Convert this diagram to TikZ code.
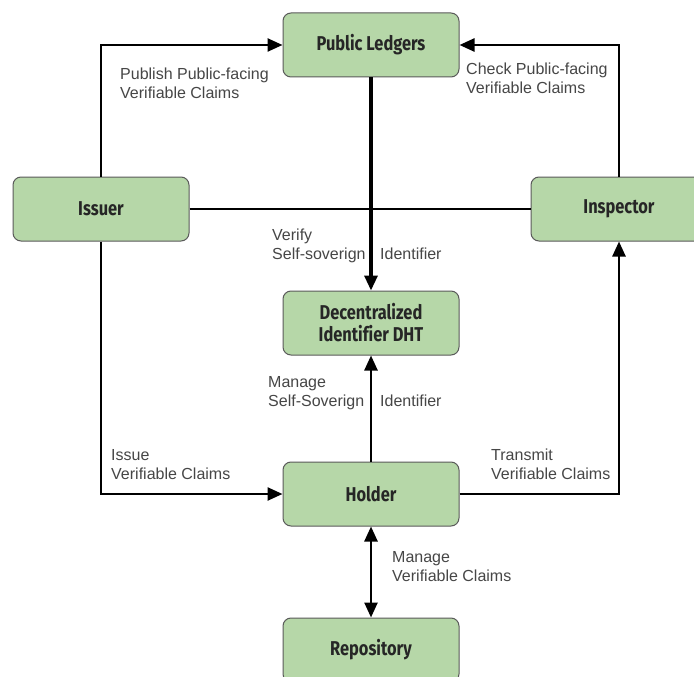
\documentclass[tikz,border=0pt]{standalone}
\usepackage{fontspec}
\setmainfont{Liberation Sans}
\newfontfamily\boxfont{Fira Sans}[FakeStretch=0.82, Ligatures=NoCommon]
\usetikzlibrary{arrows.meta}
\definecolor{boxgreen}{RGB}{182,215,168}
\definecolor{boxedge}{RGB}{90,90,90}
\definecolor{lbl}{RGB}{70,70,70}
\tikzset{
  entity/.style={draw=boxedge, line width=1pt, fill=boxgreen, rounded corners=8pt,
    minimum width=176pt, minimum height=64pt, inner sep=0pt, align=center,
    font=\boxfont\bfseries\fontsize{20}{22}\selectfont, text=black!85},
  conn/.style={line width=2.5pt, black},
  arr/.style={conn, -{Triangle[length=15pt,width=13pt]}},
  dbl/.style={conn, {Triangle[length=15pt,width=13pt]}-{Triangle[length=15pt,width=13pt]}},
  lab/.style={anchor=base west, inner sep=0pt, text=lbl, font=\fontsize{16}{19}\selectfont},
}
\begin{document}
\begin{tikzpicture}[x=1pt,y=-1pt]
\useasboundingbox (0,0) rectangle (694,677);
\clip (0,0) rectangle (694,677);
\fill[white] (0,0) rectangle (694,677);
\node[entity] (ledgers) at (371,45) {Public Ledgers};
\node[entity] (issuer) at (101,209) {Issuer};
\node[entity] (inspector) at (619,209) {Inspector};
\node[entity] (dht) at (371,323) {Decentralized\\Identifier DHT};
\node[entity] (holder) at (371,494) {Holder};
\node[entity] (repo) at (371,650) {Repository};

\draw[arr] (issuer.north) |- (ledgers.west);
\draw[arr] (inspector.north) |- (ledgers.east);
\draw[conn] (issuer.east) -- (inspector.west);
\draw[arr, line width=3.2pt] (ledgers.south) -- (dht.north);
\draw[arr] (holder.north) -- (dht.south);
\draw[arr] (issuer.south) |- (holder.west);
\draw[arr] (holder.east) -| (inspector.south);
\draw[dbl] (holder.south) -- (repo.north);

\node[lab] (l1a) at (120,80) {Publish Public-facing};
\node[lab] (l1b) at (120,99) {Verifiable Claims};
\node[lab] (l2a) at (466,75) {Check Public-facing};
\node[lab] (l2b) at (466,94) {Verifiable Claims};
\node[lab] (l3a) at (272,240) {Verify};
\node[lab] (l3b) at (272,259) {Self-soverign};
\node[lab] (l3c) at (380,259) {Identifier};
\node[lab] (l4a) at (268,387) {Manage};
\node[lab] (l4b) at (268,406) {Self-Soverign};
\node[lab] (l4c) at (380,406) {Identifier};
\node[lab] (l5a) at (111,460) {Issue};
\node[lab] (l5b) at (111,479) {Verifiable Claims};
\node[lab] (l6a) at (491,460) {Transmit};
\node[lab] (l6b) at (491,479) {Verifiable Claims};
\node[lab] (l7a) at (392,562) {Manage};
\node[lab] (l7b) at (392,581) {Verifiable Claims};
\end{tikzpicture}
\end{document}
